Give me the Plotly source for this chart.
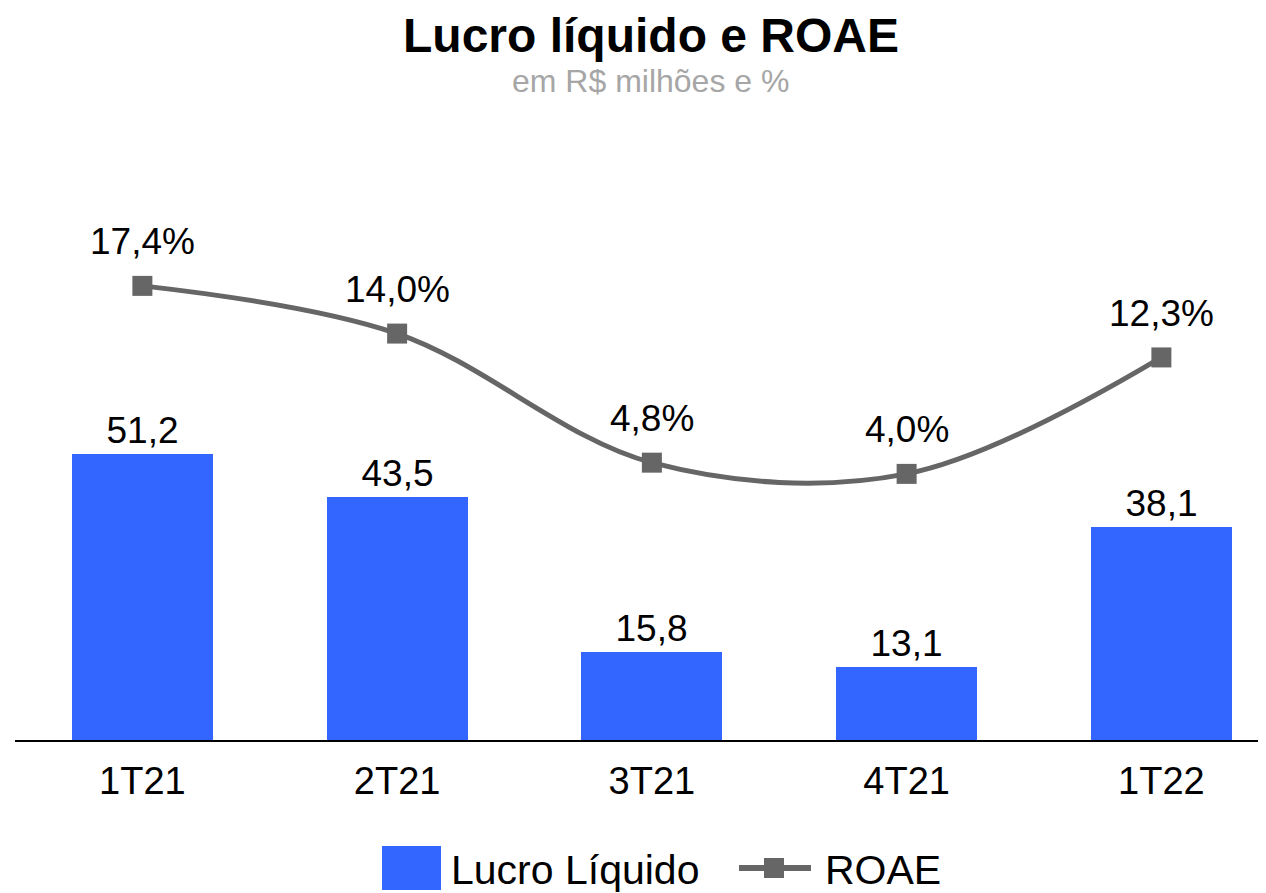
import plotly.graph_objects as go

categories = ["1T21", "2T21", "3T21", "4T21", "1T22"]
lucro = [51.2, 43.5, 15.8, 13.1, 38.1]
roae = [17.4, 14.0, 4.8, 4.0, 12.3]

# page has an 8px body margin; work in reference pixels and subtract it
OFF = 8
W, H = 1266 - OFF, 893 - OFF
PLOT_L, PLOT_R, PLOT_T, PLOT_B = 15, 1266, 160, 740  # reference pixels
ML, MR = PLOT_L - OFF, 0
MT, MB = PLOT_T - OFF, H - (PLOT_B - OFF)
PW, PH = W - ML - MR, H - MT - MB

FONT = "Liberation Sans, Arial, sans-serif"
BLUE = "#3366FF"
GRAY = "#666666"


def xp(px):
    return (px - PLOT_L) / PW


def yp(py):
    return (PLOT_B - py) / PH


def fmt(v):
    return f"{v:.1f}".replace(".", ",")


fig = go.Figure()
fig.add_trace(go.Bar(
    x=categories, y=lucro, name="Lucro Líquido",
    marker=dict(color=BLUE, line=dict(width=0)),
    width=0.553,
    text=[fmt(v) for v in lucro], textposition="outside",
    textfont=dict(family=FONT, size=37, color="#000000"),
    cliponaxis=False, showlegend=False,
))
fig.add_trace(go.Scatter(
    x=categories, y=roae, name="ROAE", yaxis="y2",
    mode="lines+markers",
    line=dict(color=GRAY, width=5, shape="spline", smoothing=1.0),
    marker=dict(symbol="square", size=20, color=GRAY),
    cliponaxis=False, showlegend=False,
))

annotations = []
for c, v in zip(categories, roae):
    annotations.append(dict(
        x=c, y=v, xref="x", yref="y2", text=fmt(v) + "%",
        showarrow=False, yshift=44, yanchor="middle",
        font=dict(family=FONT, size=37, color="#000000"),
    ))

# Title and subtitle
annotations.append(dict(
    x=xp(651), y=yp(35), xref="paper", yref="paper",
    text="<b>Lucro líquido e ROAE</b>", showarrow=False,
    xanchor="center", yanchor="middle",
    font=dict(family=FONT, size=48, color="#000000"),
))
annotations.append(dict(
    x=xp(651), y=yp(81), xref="paper", yref="paper",
    text="em R$ milhões e %", showarrow=False,
    xanchor="center", yanchor="middle",
    font=dict(family=FONT, size=32, color="#A6A6A6"),
))

# Custom legend
annotations.append(dict(
    x=xp(449), y=yp(870), xref="paper", yref="paper",
    text="Lucro Líquido", showarrow=False, xanchor="left", yanchor="middle",
    font=dict(family=FONT, size=41, color="#000000"),
))
annotations.append(dict(
    x=xp(823), y=yp(870), xref="paper", yref="paper",
    text="ROAE", showarrow=False, xanchor="left", yanchor="middle",
    font=dict(family=FONT, size=41, color="#000000"),
))

shapes = [
    dict(type="rect", xref="paper", yref="paper",
         x0=xp(382), x1=xp(441), y0=yp(890), y1=yp(846),
         fillcolor=BLUE, line=dict(width=0)),
    dict(type="line", xref="paper", yref="paper",
         x0=xp(739), x1=xp(811), y0=yp(868), y1=yp(868),
         line=dict(color=GRAY, width=6)),
    dict(type="rect", xref="paper", yref="paper",
         x0=xp(764), x1=xp(784), y0=yp(878), y1=yp(858),
         fillcolor=GRAY, line=dict(width=0)),
]

bar_scale = 5.586  # px per unit
y_top = PH / bar_scale
roae_scale = 14.03
roae_zero_px = 530
y2_top = (roae_zero_px - PLOT_T) / roae_scale
y2_bot = -(PLOT_B - roae_zero_px) / roae_scale

fig.update_layout(
    width=W, height=H,
    margin=dict(l=ML, r=MR, t=MT, b=MB),
    paper_bgcolor="white", plot_bgcolor="white",
    showlegend=False,
    bargap=0.0,
    xaxis=dict(
        range=[-0.5, -0.5 + PW / 254.75],
        showline=True, linecolor="#000000", linewidth=2,
        showgrid=False, zeroline=False, ticks="",
        tickfont=dict(family=FONT, size=38, color="#000000"),
        ticklabelstandoff=6,
    ),
    yaxis=dict(range=[0, y_top], visible=False, showgrid=False, zeroline=False),
    yaxis2=dict(range=[y2_bot, y2_top], overlaying="y", visible=False,
                showgrid=False, zeroline=False),
    annotations=annotations,
    shapes=shapes,
)

fig.write_html("out.html")
